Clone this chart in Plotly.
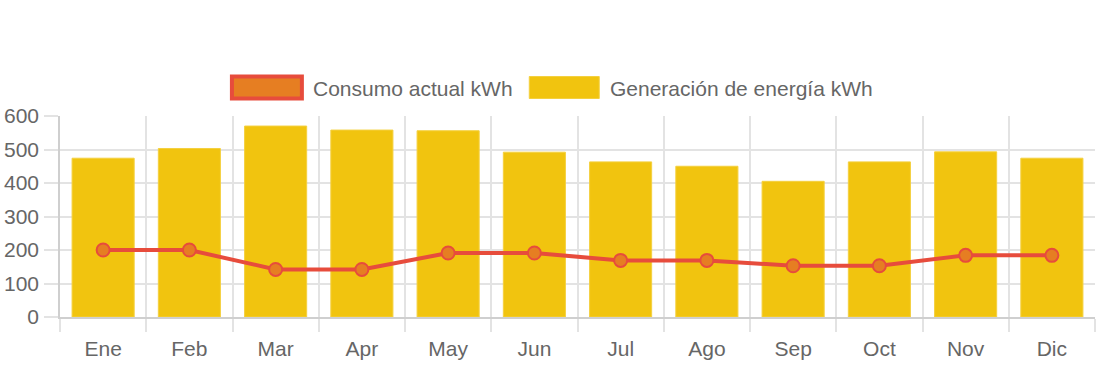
import plotly.graph_objects as go

months = ["Ene", "Feb", "Mar", "Apr", "May", "Jun", "Jul", "Ago", "Sep", "Oct", "Nov", "Dic"]
consumo = [200, 200, 142, 142, 191, 191, 169, 169, 153, 153, 184, 184]
generacion = [474, 503, 570, 558, 556, 492, 463, 450, 405, 463, 493, 474]

name_consumo = "Consumo actual kWh"
name_generacion = "Generación de energía kWh"

W, H = 1104, 367
L, R, T, B = 59.5, 1095, 116, 317
FONT = "Liberation Sans, Arial, Helvetica, sans-serif"
TXT = "#666666"
GRID = "#e3e3e3"
AXIS = "#cfcfcf"
FS = 21


def px(x):
    return (x - L) / (R - L)


def py(y):
    return (B - y) / (B - T)


fig = go.Figure()
fig.add_trace(go.Bar(
    x=months, y=generacion, name=name_generacion,
    marker=dict(color="#f1c40f", line=dict(width=1, color="#f4d03f")),
    showlegend=False,
))
fig.add_trace(go.Scatter(
    x=months, y=consumo, name=name_consumo, mode="lines+markers",
    line=dict(color="#e74c3c", width=4),
    marker=dict(size=13, color="#e67e22", line=dict(width=2, color="#e74c3c")),
    showlegend=False,
))

shapes = [
    dict(type="rect", xref="paper", yref="paper",
         x0=px(231.5), x1=px(301.5), y0=py(98.5), y1=py(76.5),
         fillcolor="#e67e22", line=dict(color="#e74c3c", width=4)),
    dict(type="rect", xref="paper", yref="paper",
         x0=px(529), x1=px(599), y0=py(98.5), y1=py(76.5),
         fillcolor="#f1c40f", line=dict(color="#f4d03f", width=1)),
]
annotations = [
    dict(text=name_consumo, xref="paper", yref="paper", x=px(311), y=py(88),
         xanchor="left", yanchor="middle", showarrow=False,
         font=dict(size=FS, color=TXT, family=FONT)),
    dict(text=name_generacion, xref="paper", yref="paper", x=px(608), y=py(88),
         xanchor="left", yanchor="middle", showarrow=False,
         font=dict(size=FS, color=TXT, family=FONT)),
]

fig.update_layout(
    width=W, height=H,
    margin=dict(l=L, r=W - R, t=T, b=H - B, pad=0),
    paper_bgcolor="white", plot_bgcolor="white",
    font=dict(family=FONT, size=FS, color=TXT),
    bargap=0.28,
    shapes=shapes, annotations=annotations,
    xaxis=dict(
        type="category", range=[-0.5, 11.5], tickson="boundaries",
        automargin=False,
        showgrid=True, gridcolor=GRID, gridwidth=1.5,
        ticks="outside", ticklen=13, tickcolor=GRID, tickwidth=1.5,
        showline=True, linecolor=AXIS, linewidth=1.5, mirror=False,
        tickfont=dict(size=FS, color=TXT),
        ticklabelstandoff=12,
    ),
    yaxis=dict(
        range=[0, 600], dtick=100, tick0=0,
        automargin=False,
        showgrid=True, gridcolor=GRID, gridwidth=1.5,
        ticks="outside", ticklen=14, tickcolor=GRID, tickwidth=1.5,
        showline=True, linecolor=AXIS, linewidth=1.5,
        zeroline=False, tickfont=dict(size=FS, color=TXT),
        ticklabelstandoff=1,
    ),
)

fig.write_html(
    "out.html",
    config={"displayModeBar": False},
    post_script="document.body.style.margin='0px';document.body.style.overflow='hidden';",
)
